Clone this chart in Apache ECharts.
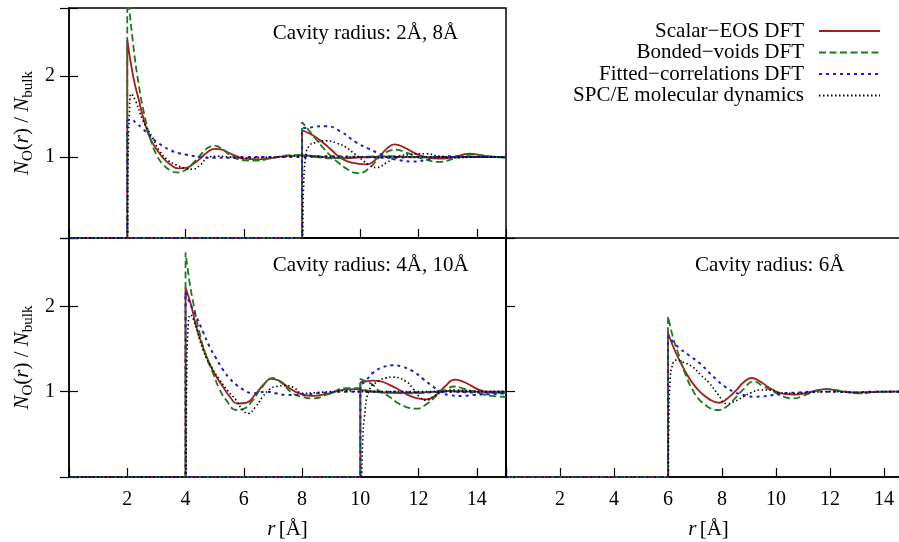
<!DOCTYPE html>
<html>
<head>
<meta charset="utf-8">
<script src="https://cdn.jsdelivr.net/npm/echarts@6/dist/echarts.min.js"></script>
<style>html,body{margin:0;padding:0;background:#fff}#c{width:899px;height:542px}</style>
</head>
<body>
<div id="c"></div>
<script>
// ---- Data: [r (Å), N_O(r)/N_bulk] ----
// Panel A: cavity radius 2 Å and 8 Å
const a2_scalar = [[0,0],[2,0],[2,2.45],[2.2,2.0],[2.4,1.7],[2.6,1.42],[2.8,1.22],[3,1.1],[3.25,0.98],[3.5,0.9],[3.75,0.86],[4,0.865],[4.25,0.91],[4.5,0.98],[4.75,1.06],[5,1.1],[5.25,1.09],[5.5,1.05],[5.75,1.01],[6,0.98],[6.5,0.97],[7,0.99],[7.5,1.015],[8,1.02],[8.5,1.01],[9,0.99],[9.5,0.985],[10,0.995],[11,1.005],[12,1.0],[13,0.995],[14,1.0],[15,1.0]];
const a2_bonded = [[0,0],[2,0],[2,3.1],[2.2,2.4],[2.4,1.88],[2.6,1.5],[2.8,1.22],[3,1.03],[3.25,0.9],[3.5,0.83],[3.7,0.81],[4,0.84],[4.25,0.92],[4.5,1.02],[4.75,1.11],[5,1.14],[5.25,1.1],[5.5,1.03],[5.75,0.98],[6,0.96],[6.4,0.955],[7,0.99],[7.5,1.02],[8,1.025],[8.5,1.0],[9,0.985],[9.5,0.99],[10,1.0],[11,1.01],[12,0.995],[13,1.0],[14,1.0],[15,1.0]];
const a2_fitted = [[0,0],[2,0],[2,1.45],[2.15,1.46],[2.3,1.42],[2.5,1.36],[2.75,1.27],[3,1.19],[3.25,1.13],[3.5,1.08],[3.75,1.05],[4,1.03],[4.5,1.0],[5,0.99],[5.5,0.99],[6,1.0],[7,1.0],[8,1.0],[9,1.01],[10,1.0],[11,0.99],[12,1.0],[13,1.0],[14,1.0],[15,1.0]];
const a2_md = [[0,0],[2,0],[2.03,1.0],[2.07,1.5],[2.14,1.78],[2.3,1.68],[2.54,1.45],[2.88,1.23],[3.1,1.08],[3.4,0.96],[3.7,0.9],[4,0.86],[4.25,0.85],[4.5,0.9],[4.8,1.0],[5.1,1.01],[5.5,1.0],[6,0.99],[7,1.0],[8,1.01],[9,1.0],[10,1.0],[11,1.0],[12,1.0],[13,1.0],[14,1.0],[15,1.0]];
const a8_scalar = [[0,0],[8,0],[8,1.33],[8.2,1.3],[8.45,1.25],[8.71,1.18],[9,1.09],[9.28,1.0],[9.7,0.93],[10.2,0.91],[10.6,0.99],[10.9,1.1],[11.17,1.155],[11.5,1.12],[11.8,1.06],[12.14,1.01],[12.7,0.98],[13.2,1.0],[13.74,1.04],[14.2,1.02],[14.6,1.0],[15,1.0]];
const a8_bonded = [[0,0],[8,0],[8,1.43],[8.3,1.3],[8.71,1.12],[9,1.01],[9.28,0.92],[9.6,0.84],[9.91,0.8],[10.3,0.86],[10.66,1.0],[10.95,1.07],[11.23,1.09],[11.6,1.05],[12.14,0.98],[12.71,0.94],[13.3,0.99],[13.86,1.03],[14.4,1.01],[15,0.99]];
const a8_fitted = [[0,0],[8,0],[8,1.33],[8.4,1.37],[8.83,1.38],[9.3,1.32],[9.86,1.18],[10.3,1.1],[10.66,1.04],[11,0.99],[11.34,0.96],[11.8,0.945],[12.2,0.96],[12.71,1.0],[13.2,1.01],[13.8,1.0],[14.4,1.0],[15,1.0]];
const a8_md = [[0,0],[8,0],[8.05,0.6],[8.12,1.0],[8.25,1.14],[8.5,1.18],[8.83,1.2],[9.2,1.17],[9.51,1.12],[9.8,1.04],[10.08,0.96],[10.3,0.9],[10.54,0.87],[10.9,0.93],[11.23,1.0],[11.7,1.03],[12.26,1.04],[12.7,1.01],[13.2,0.99],[14,1.0],[15,1.0]];
// Panel B: cavity radius 4 Å and 10 Å
const b4_scalar = [[0,0],[4,0],[4,2.22],[4.2,2.0],[4.37,1.76],[4.6,1.52],[4.82,1.33],[5.05,1.18],[5.28,1.06],[5.5,0.95],[5.79,0.86],[6.1,0.87],[6.4,0.97],[6.7,1.09],[6.94,1.15],[7.2,1.13],[7.57,1.04],[7.9,0.98],[8.37,0.95],[8.8,0.97],[9.4,1.02],[9.8,1.03],[10.2,1.01],[10.8,0.99],[11.5,0.985],[12,0.99],[13,1.005],[14,1.0],[15,1.0]];
const b4_bonded = [[0,0],[4,0],[4,2.63],[4.14,2.28],[4.3,1.98],[4.48,1.69],[4.7,1.42],[4.94,1.22],[5.15,1.04],[5.4,0.9],[5.74,0.785],[6,0.8],[6.31,0.9],[6.6,1.04],[7,1.16],[7.3,1.1],[7.68,0.98],[8,0.94],[8.37,0.92],[8.9,0.97],[9.51,1.04],[9.9,1.04],[10.3,1.01],[11,0.99],[11.6,0.98],[12.3,0.99],[13,1.01],[14,1.0],[15,0.99]];
const b4_fitted = [[0,0],[4,0],[4,2.16],[4.2,2.0],[4.37,1.88],[4.6,1.7],[4.82,1.53],[5.05,1.39],[5.28,1.26],[5.5,1.16],[5.74,1.08],[6,1.02],[6.31,0.98],[6.77,1.0],[7.11,0.98],[7.5,0.96],[8,0.96],[8.5,0.98],[9,0.99],[9.5,1.0],[10,1.0],[11,1.0],[12,0.99],[13,1.0],[14,0.99],[15,0.99]];
const b4_md = [[0,0],[4,0],[4.04,1.2],[4.08,1.7],[4.17,1.9],[4.3,1.82],[4.6,1.49],[4.9,1.28],[5.17,1.14],[5.45,1.01],[5.74,0.9],[5.95,0.79],[6.14,0.745],[6.4,0.82],[6.65,0.94],[6.9,1.03],[7.11,1.06],[7.4,1.07],[7.7,1.05],[8.02,0.98],[8.5,0.99],[9,1.0],[9.5,1.01],[10,1.0],[11,1.0],[12,1.0],[13,1.0],[15,1.0]];
const b10_scalar = [[0,0],[10,0],[10,1.1],[10.2,1.12],[10.43,1.13],[10.7,1.12],[11,1.08],[11.34,1.02],[11.7,0.95],[12,0.92],[12.26,0.91],[12.6,0.96],[12.9,1.06],[13.24,1.14],[13.5,1.12],[13.8,1.07],[14.09,1.02],[14.5,0.99],[15,0.99]];
const b10_bonded = [[0,0],[10,0],[10,1.15],[10.2,1.12],[10.43,1.08],[10.6,1.02],[11,0.94],[11.23,0.88],[11.5,0.83],[11.91,0.8],[12.3,0.86],[12.71,0.98],[13,1.04],[13.23,1.06],[13.6,1.03],[14.1,0.98],[14.5,0.95],[15,0.94]];
const b10_fitted = [[0,0],[10,0],[10,1.05],[10.2,1.13],[10.43,1.22],[10.8,1.29],[11.11,1.31],[11.45,1.29],[11.8,1.24],[12.15,1.15],[12.49,1.06],[12.8,0.99],[13.06,0.96],[13.5,0.95],[13.86,0.96],[14.4,0.97],[15,0.98]];
const b10_md = [[0,0],[10,0],[10.08,0.4],[10.14,0.7],[10.31,1.02],[10.6,1.12],[10.88,1.16],[11.1,1.17],[11.57,1.12],[11.8,1.04],[12.03,0.94],[12.26,0.9],[12.55,0.95],[12.83,1.0],[13.3,1.02],[13.8,1.01],[14.4,1.0],[15,1.0]];
// Panel C: cavity radius 6 Å
const c6_scalar = [[0,0],[6,0],[6,1.69],[6.2,1.52],[6.42,1.37],[6.65,1.23],[6.91,1.1],[7.15,1.01],[7.4,0.94],[7.65,0.89],[7.9,0.87],[8.2,0.92],[8.54,1.02],[8.8,1.11],[9.1,1.16],[9.4,1.12],[9.78,1.04],[10.1,0.99],[10.4,0.97],[10.7,0.965],[11.2,0.99],[11.6,1.02],[11.88,1.03],[12.3,1.01],[12.86,0.99],[13.5,0.995],[14.3,1.0],[15,1.0]];
const c6_bonded = [[0,0],[6,0],[6,1.88],[6.2,1.62],[6.42,1.41],[6.65,1.2],[6.91,1.02],[7.15,0.91],[7.4,0.84],[7.6,0.8],[7.86,0.785],[8.15,0.82],[8.42,0.9],[8.8,1.03],[9.16,1.12],[9.5,1.07],[9.9,1.0],[10.3,0.94],[10.64,0.92],[11,0.95],[11.5,1.01],[11.9,1.03],[12.4,1.01],[13.1,0.98],[13.8,1.0],[14.5,1.0],[15,1.0]];
const c6_fitted = [[0,0],[6,0],[6,1.65],[6.2,1.58],[6.42,1.51],[6.8,1.42],[7.19,1.33],[7.5,1.23],[7.8,1.14],[8.1,1.06],[8.42,1.0],[8.8,0.96],[9.16,0.94],[9.5,0.945],[9.9,0.96],[10.3,0.98],[10.8,0.99],[11.5,1.0],[12,1.0],[12.5,0.995],[13,0.99],[13.5,1.0],[14,1.0],[15,1.0]];
const c6_md = [[0,0],[6,0],[6.03,0.6],[6.07,1.1],[6.2,1.35],[6.3,1.37],[6.6,1.34],[6.91,1.29],[7.2,1.2],[7.53,1.1],[7.85,0.97],[8.17,0.86],[8.5,0.89],[8.79,0.94],[9.1,0.99],[9.41,1.02],[9.7,1.02],[10.1,0.99],[10.6,0.98],[11.2,0.99],[12,1.0],[13,0.99],[14,1.0],[15,1.0]];

const seriesNames = ['Scalar\u2212EOS DFT','Bonded\u2212voids DFT','Fitted\u2212correlations DFT','SPC/E molecular dynamics'];
const panelLabels = ['Cavity radius: 2\u00c5, 8\u00c5','Cavity radius: 4\u00c5, 10\u00c5','Cavity radius: 6\u00c5'];
const xTicks = [2,4,6,8,10,12,14];
const yTicks = [1,2];

// ---- Styles ----
const FONT = 'Liberation Serif';
const styles = [
  {color:'#a81c1c', width:1.8, type:'solid'},
  {color:'#1b7a1b', width:1.8, type:[7,3.5]},
  {color:'#1c1cc8', width:2, type:[3,4]},
  {color:'#000000', width:1.6, type:[1.5,2.5]}
];

const panels = [
  {grid:{left:69, top:8, width:437, height:230}, ymax:2.84, showX:false, showY:true, curves:[[a2_scalar,a2_bonded,a2_fitted,a2_md],[a8_scalar,a8_bonded,a8_fitted,a8_md]]},
  {grid:{left:69, top:238, width:437, height:239}, ymax:2.8, showX:true, showY:true, curves:[[b4_scalar,b4_bonded,b4_fitted,b4_md],[b10_scalar,b10_bonded,b10_fitted,b10_md]]},
  {grid:{left:506, top:238, width:405, height:239}, ymax:2.8, showX:true, showY:false, curves:[[c6_scalar,c6_bonded,c6_fitted,c6_md]]}
];

const grid=[], xAxis=[], yAxis=[], series=[];
panels.forEach((p,i)=>{
  grid.push(Object.assign({show:true, borderColor:'#000', borderWidth:1.5, backgroundColor:'transparent',
    containLabel:false, outerBoundsMode:'none'}, p.grid));
  xAxis.push({type:'value', gridIndex:i, min:0, max:15, interval:2,
    axisLine:{show:true, onZero:false, lineStyle:{color:'#000', width:1.5}},
    axisTick:{show:true, inside:true, length:9, lineStyle:{color:'#000', width:1.2}},
    axisLabel:{show:p.showX, margin:13, fontFamily:FONT, fontSize:20, color:'#000',
      formatter:v=> xTicks.indexOf(v)>=0 ? String(v) : ''},
    splitLine:{show:false}});
  yAxis.push({type:'value', gridIndex:i, min:0, max:p.ymax, interval:1, position:'left',
    axisLine:{show:true, onZero:false, lineStyle:{color:'#000', width:1.5}},
    axisTick:{show:true, inside:true, length:9, lineStyle:{color:'#000', width:1.2}},
    axisLabel:{show:p.showY, margin:14, fontFamily:FONT, fontSize:20, color:'#000',
      formatter:v=> yTicks.indexOf(v)>=0 ? String(v) : ''},
    splitLine:{show:false}});
  if (i<2) {
    yAxis.push({type:'value', gridIndex:i, min:0, max:p.ymax, interval:1, position:'right',
      axisLine:{show:false}, axisLabel:{show:false}, splitLine:{show:false},
      axisTick:{show:true, inside:true, length:9, lineStyle:{color:'#000', width:1.2}}});
  }
});
const yIdx = [0,2,4];
panels.forEach((p,i)=>{
  p.curves.forEach(set=>{
    set.forEach((d,k)=>{
      series.push({type:'line', name:seriesNames[k], xAxisIndex:i, yAxisIndex:yIdx[i], data:d,
        symbol:'none', showSymbol:false, smooth:0.5, clip:true, silent:true,
        animation:false, z:3+k,
        lineStyle:{color:styles[k].color, width:styles[k].width, type:styles[k].type},
        itemStyle:{color:styles[k].color}});
    });
  });
});

const ytitle = (x,y)=>({type:'text', x:x, y:y, rotation:Math.PI/2, z:10,
  style:{text:'{i|N}{s|O}{n|(}{i|r}{n|) / }{i|N}{s|bulk}', align:'center', verticalAlign:'middle', fill:'#000',
    rich:{ i:{fontFamily:FONT, fontStyle:'italic', fontSize:21},
           n:{fontFamily:FONT, fontSize:21},
           s:{fontFamily:FONT, fontSize:15, padding:[13,0,0,0]} }}});
const xtitle = (x,y)=>({type:'text', x:x, y:y, z:10,
  style:{text:'{i|r} {n|[\u00c5]}', align:'center', verticalAlign:'middle', fill:'#000',
    rich:{ i:{fontFamily:FONT, fontStyle:'italic', fontSize:21}, n:{fontFamily:FONT, fontSize:21} }}});
const plabel = (t,x,y)=>({type:'text', x:x, y:y, z:10,
  style:{text:t, align:'left', verticalAlign:'middle', fill:'#000', font:'21px "Liberation Serif"'}});

const chart = echarts.init(document.getElementById('c'), null, {renderer:'canvas'});
chart.setOption({
  animation:false,
  backgroundColor:'#fff',
  grid, xAxis, yAxis, series,
  legend:{data:seriesNames, orient:'vertical', align:'right', right:18, top:20.5, padding:0,
    itemWidth:61, itemHeight:14, itemGap:0.5, selectedMode:false,
    itemStyle:{opacity:0},
    textStyle:{fontFamily:FONT, fontSize:21, color:'#000', padding:[0,10,0,0]}},
  graphic:[
    ytitle(22,123), ytitle(22,357.5),
    xtitle(287.5,529), xtitle(708.5,529),
    plabel(panelLabels[0],272.7,33.7), plabel(panelLabels[1],272.7,265.5), plabel(panelLabels[2],695,265.5)
  ]
});
</script>
</body>
</html>
